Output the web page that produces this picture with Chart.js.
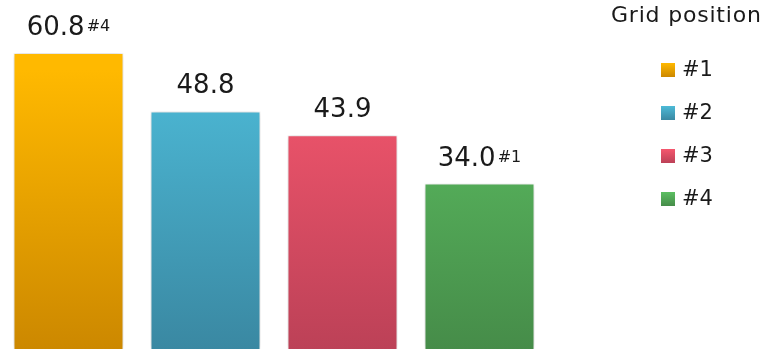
<!DOCTYPE html>
<html>
<head>
<meta charset="utf-8">
<script src="https://cdn.jsdelivr.net/npm/chart.js@4"></script>
<style>
  html, body { margin: 0; padding: 0; background: #fff; }
  #wrap { position: relative; width: 764px; height: 349px; overflow: hidden; }
  #c { position: absolute; left: 0; top: 0; }
  #legend { position: absolute; left: 600px; top: 0; width: 164px; height: 349px;
            font-family: "DejaVu Sans", Verdana, sans-serif; color: #1a1a1a; }
  #legend .title { position: absolute; left: 11px; top: 2px; font-size: 22px; letter-spacing: 0.8px; white-space: nowrap; }
  #legend .item { position: absolute; left: 61px; height: 20px; font-size: 21px; white-space: nowrap; }
  #legend .box { position: absolute; left: 0; top: 3px; width: 14px; height: 14px; }
  #legend .txt { position: absolute; left: 21px; top: -5px; line-height: 28px; }
</style>
</head>
<body>
<div id="wrap">
  <canvas id="c" width="764" height="349"></canvas>
  <div id="legend"></div>
</div>
<script>
// Grid positions and their values
const categories = ["#1", "#2", "#3", "#4"];
const values = [60.8, 48.8, 43.9, 34.0];
const superscripts = ["#4", "", "", "#1"];
const legendTitle = "Grid position";

// Top / bottom colours of each bar's vertical gradient
const topColors = ["#FFB900", "#4DBAD7", "#F5576E", "#5CBF62"];
const bottomColors = ["#CC8800", "#3A88A2", "#BC4157", "#468C49"];

function barGradient(context) {
  const chart = context.chart;
  const area = chart.chartArea;
  if (!area) return topColors[context.dataIndex];
  const el = context.element;
  const top = el && isFinite(el.y) ? el.y : area.top;
  const g = chart.ctx.createLinearGradient(0, top, 0, area.bottom);
  g.addColorStop(0, topColors[context.dataIndex]);
  g.addColorStop(0.2, topColors[context.dataIndex]);
  g.addColorStop(1, bottomColors[context.dataIndex]);
  return g;
}

// Soft shadow behind the bars
const barShadow = {
  id: "barShadow",
  beforeDatasetsDraw(chart) {
    const ctx = chart.ctx;
    ctx.save();
    ctx.shadowColor = "rgba(0,0,0,0.22)";
    ctx.shadowBlur = 7;
    ctx.shadowOffsetX = 0;
    ctx.shadowOffsetY = 0;
  },
  afterDatasetsDraw(chart) {
    chart.ctx.restore();
  }
};

const MAIN_FONT = '26px "DejaVu Sans", Verdana, sans-serif';
const SUP_FONT = '16px "DejaVu Sans", Verdana, sans-serif';

// Value labels above the bars, with optional superscript note
const valueLabels = {
  id: "valueLabels",
  afterDatasetsDraw(chart) {
    const ctx = chart.ctx;
    const meta = chart.getDatasetMeta(0);
    ctx.save();
    ctx.fillStyle = "#1a1a1a";
    ctx.textBaseline = "alphabetic";
    ctx.textAlign = "left";
    meta.data.forEach((bar, i) => {
      const main = values[i].toFixed(1);
      const sup = superscripts[i];
      ctx.font = MAIN_FONT;
      const wMain = ctx.measureText(main).width;
      let wSup = 0;
      if (sup) {
        ctx.font = SUP_FONT;
        wSup = ctx.measureText(sup).width + 2;
      }
      const x0 = bar.x - (wMain + wSup) / 2;
      const base = bar.y - 18;
      ctx.font = MAIN_FONT;
      ctx.fillText(main, x0, base);
      if (sup) {
        ctx.font = SUP_FONT;
        ctx.fillText(sup, x0 + wMain + 2, base - 4);
      }
    });
    ctx.restore();
  }
};

new Chart(document.getElementById("c"), {
  type: "bar",
  data: {
    labels: categories,
    datasets: [{
      data: values,
      backgroundColor: barGradient,
      borderColor: "rgba(255,255,255,0.22)",
      borderWidth: 1,
      borderSkipped: "bottom",
      barPercentage: 0.803,
      categoryPercentage: 1.0
    }]
  },
  options: {
    responsive: false,
    animation: false,
    events: [],
    layout: { padding: { left: 0, right: 216, top: 0, bottom: 0 } },
    scales: {
      x: { display: false, offset: true },
      y: { display: false, min: 0, max: 71.7 }
    },
    plugins: {
      legend: { display: false },
      tooltip: { enabled: false }
    }
  },
  plugins: [barShadow, valueLabels]
});

// Legend: title and one swatch per grid position
const legend = document.getElementById("legend");
const t = document.createElement("div");
t.className = "title";
t.textContent = legendTitle;
legend.appendChild(t);
categories.forEach((name, i) => {
  const item = document.createElement("div");
  item.className = "item";
  item.style.top = (60 + i * 43) + "px";
  const box = document.createElement("div");
  box.className = "box";
  box.style.background = "linear-gradient(" + topColors[i] + "," + bottomColors[i] + ")";
  const txt = document.createElement("div");
  txt.className = "txt";
  txt.textContent = name;
  item.appendChild(box);
  item.appendChild(txt);
  legend.appendChild(item);
});
</script>
</body>
</html>
